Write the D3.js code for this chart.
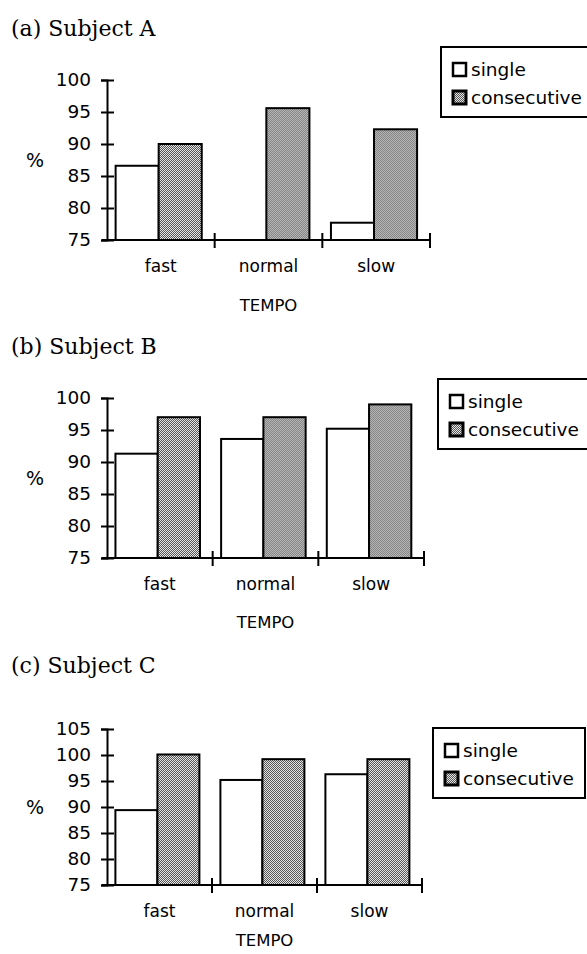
<!DOCTYPE html>
<html>
<head>
<meta charset="utf-8">
<script src="https://cdn.jsdelivr.net/npm/d3@7"></script>
<style>
  body { margin: 0; background: #fff; }
  text { font-family: "DejaVu Sans", sans-serif; fill: #000; }
  .title { font-family: "DejaVu Serif", serif; font-size: 22px; }
</style>
</head>
<body>
<div id="chart"></div>
<script>
// data
var categories = ["fast", "normal", "slow"];
var series = ["single", "consecutive"];
var titles = ["(a) Subject A", "(b) Subject B", "(c) Subject C"];

var singleA = [86.6, 75, 77.7];
var consecutiveA = [90, 95.6, 92.3];
var singleB = [91.3, 93.6, 95.2];
var consecutiveB = [97, 97, 99];
var singleC = [89.4, 95.2, 96.3];
var consecutiveC = [100.1, 99.2, 99.2];

var ticksAB = [75, 80, 85, 90, 95, 100];
var ticksC = [75, 80, 85, 90, 95, 100, 105];

// layout for each panel
var panels = [
  { title: titles[0], single: singleA, consec: consecutiveA, ticks: ticksAB,
    titleY: 36, top: 80, bottom: 240, left: 107, right: 430, tempoY: 71, legX: 441, legY: 47, legW: 150 },
  { title: titles[1], single: singleB, consec: consecutiveB, ticks: ticksAB,
    titleY: 354, top: 398, bottom: 558, left: 107, right: 424, tempoY: 70, legX: 438, legY: 379, legW: 152 },
  { title: titles[2], single: singleC, consec: consecutiveC, ticks: ticksC,
    titleY: 673, top: 729, bottom: 885, left: 107, right: 422, tempoY: 61, legX: 433, legY: 728, legW: 152 }
];

var svg = d3.select("#chart").append("svg")
    .attr("width", 587)
    .attr("height", 954);

// dotted grey fill
var pat = svg.append("defs").append("pattern")
    .attr("id", "dots")
    .attr("patternUnits", "userSpaceOnUse")
    .attr("width", 2)
    .attr("height", 2);
pat.append("rect").attr("width", 2).attr("height", 2).attr("fill", "#e6e6e6");
pat.append("rect").attr("width", 1).attr("height", 1).attr("fill", "#555");
pat.append("rect").attr("x", 1).attr("y", 1).attr("width", 1).attr("height", 1).attr("fill", "#555");

panels.forEach(function(p) {
  var g = svg.append("g");

  g.append("text")
    .attr("class", "title")
    .attr("x", 11)
    .attr("y", p.titleY)
    .text(p.title);

  var y = d3.scaleLinear()
      .domain([d3.min(p.ticks), d3.max(p.ticks)])
      .range([p.bottom, p.top]);

  var x = d3.scaleBand()
      .domain(categories)
      .range([p.left, p.right])
      .padding(0);

  var xi = d3.scaleBand()
      .domain(series)
      .range([0, x.bandwidth()])
      .paddingInner(0)
      .paddingOuter(0.25)
      .align(0.4);

  var rows = categories.map(function(c, i) {
    return { cat: c, single: p.single[i], consecutive: p.consec[i] };
  });

  // bars
  var grp = g.selectAll(".grp")
    .data(rows)
    .enter().append("g")
      .attr("transform", function(d) { return "translate(" + x(d.cat) + ",0)"; });

  grp.selectAll("rect")
    .data(function(d) { return series.map(function(s) { return { key: s, value: d[s] }; }); })
    .enter().append("rect")
      .attr("x", function(d) { return xi(d.key); })
      .attr("y", function(d) { return y(d.value); })
      .attr("width", xi.bandwidth())
      .attr("height", function(d) { return y(y.domain()[0]) - y(d.value); })
      .attr("fill", function(d) { return d.key == "single" ? "#fff" : "url(#dots)"; })
      .attr("stroke", "#000")
      .attr("stroke-width", 2);

  // y axis, ticks cross the line
  var yAxis = g.append("g")
    .attr("transform", "translate(" + p.left + ",0)")
    .call(d3.axisLeft(y).tickValues(p.ticks).tickSizeOuter(0).tickSize(6).tickPadding(10));
  yAxis.select(".domain").attr("stroke-width", 2);
  yAxis.selectAll(".tick line").attr("x1", -6).attr("x2", 7).attr("stroke-width", 2);
  yAxis.selectAll(".tick text")
    .style("font-family", "DejaVu Sans")
    .style("font-size", "18.5px");

  // x axis labels
  var xAxis = g.append("g")
    .attr("transform", "translate(0," + p.bottom + ")")
    .call(d3.axisBottom(x).tickSize(0).tickPadding(20));
  xAxis.select(".domain").remove();
  xAxis.selectAll(".tick text")
    .style("font-family", "DejaVu Sans")
    .style("font-size", "17px");

  // baseline and group separators
  g.append("line")
    .attr("x1", p.left - 5)
    .attr("x2", p.right)
    .attr("y1", p.bottom)
    .attr("y2", p.bottom)
    .attr("stroke", "#000")
    .attr("stroke-width", 2);

  g.selectAll(".sep")
    .data(categories)
    .enter().append("line")
      .attr("x1", function(d) { return x(d) + x.bandwidth(); })
      .attr("x2", function(d) { return x(d) + x.bandwidth(); })
      .attr("y1", p.bottom - 7)
      .attr("y2", p.bottom + 8)
      .attr("stroke", "#000")
      .attr("stroke-width", 2);

  g.append("text")
    .attr("x", (p.left + p.right) / 2)
    .attr("y", p.bottom + p.tempoY)
    .attr("text-anchor", "middle")
    .style("font-size", "16.5px")
    .text("TEMPO");

  g.append("text")
    .attr("x", 35)
    .attr("y", (p.top + p.bottom) / 2)
    .attr("dy", "0.35em")
    .attr("text-anchor", "middle")
    .style("font-size", "19px")
    .text("%");

  // legend
  var leg = g.append("g")
    .attr("transform", "translate(" + p.legX + "," + p.legY + ")");
  leg.append("rect")
    .attr("width", p.legW)
    .attr("height", 70)
    .attr("fill", "#fff")
    .attr("stroke", "#000")
    .attr("stroke-width", 2);

  var item = leg.selectAll(".item")
    .data(series)
    .enter().append("g")
      .attr("transform", function(d, i) { return "translate(11," + (29 + i * 28) + ")"; });
  item.append("rect")
    .attr("x", 1)
    .attr("y", -13)
    .attr("width", 13)
    .attr("height", 13)
    .attr("fill", function(d) { return d == "single" ? "#fff" : "url(#dots)"; })
    .attr("stroke", "#000")
    .attr("stroke-width", function(d) { return d == "single" ? 2.5 : 3; });
  item.append("text")
    .attr("x", 19)
    .attr("y", 0)
    .style("font-size", "18.5px")
    .text(function(d) { return d; });
});
</script>
</body>
</html>
